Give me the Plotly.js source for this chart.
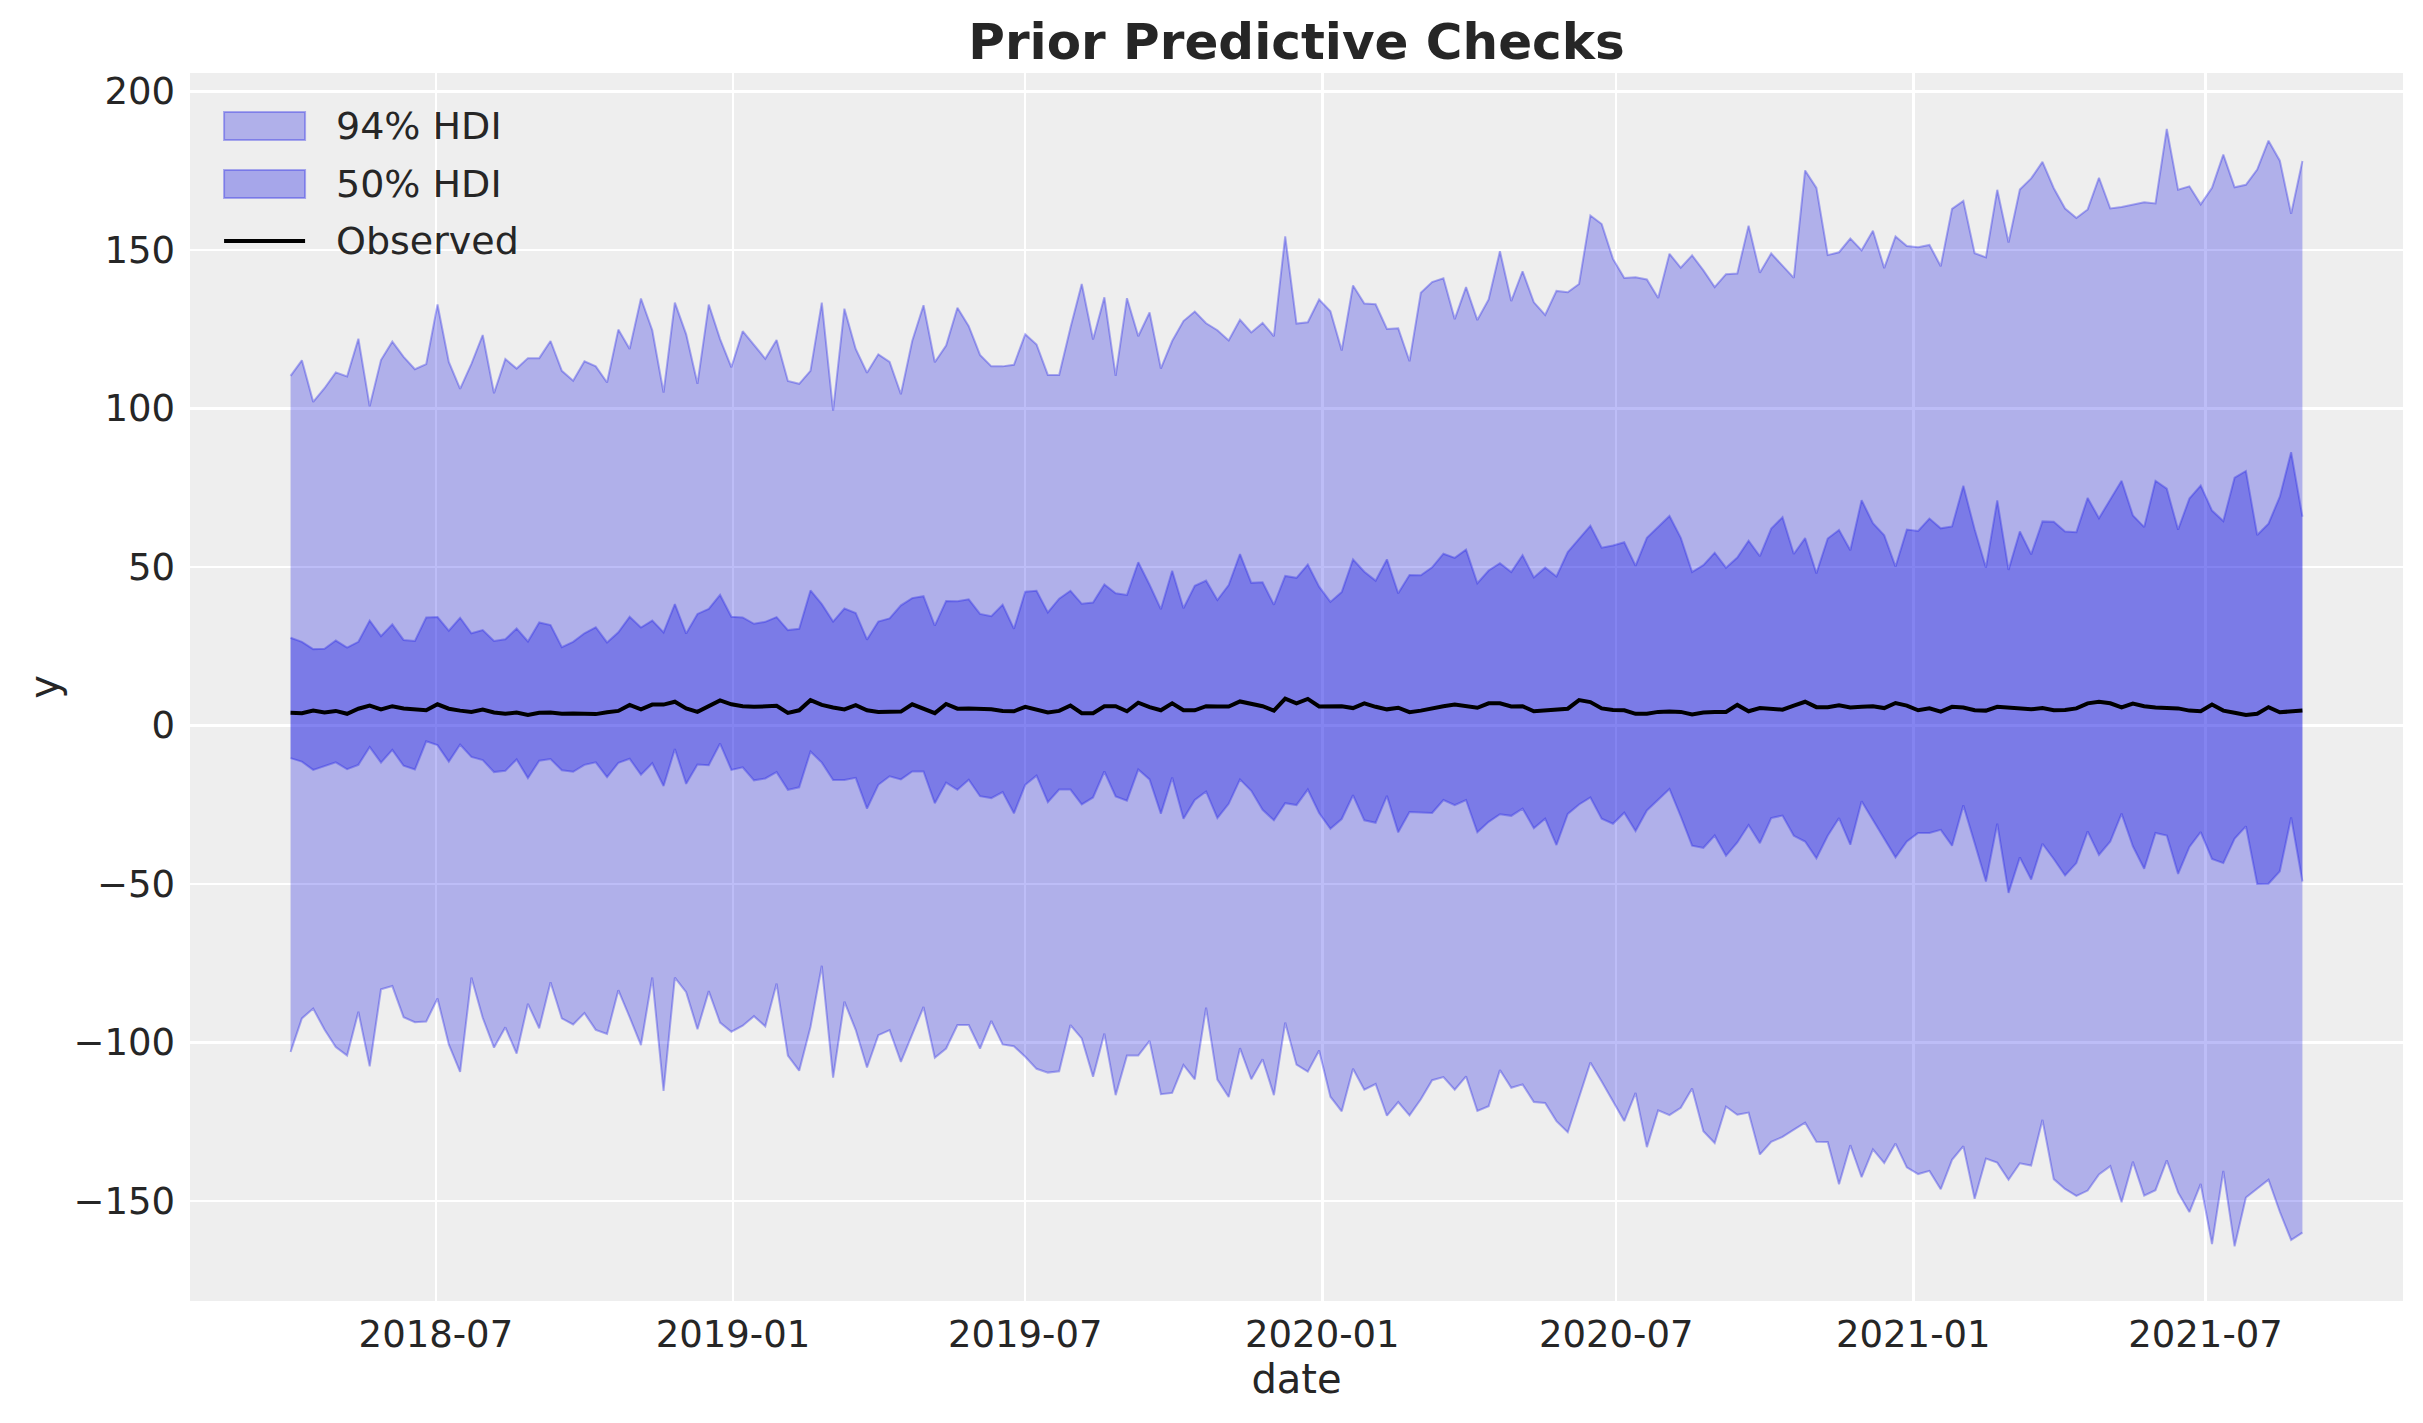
<!DOCTYPE html>
<html>
<head>
<meta charset="utf-8">
<script src="https://cdn.plot.ly/plotly-3.0.1.min.js"></script>
<style>
  body { margin: 0; background: #ffffff; }
  #ppcPlot { width: 2423px; height: 1423px; }
</style>
</head>
<body>
<div id="ppcPlot"></div>
<script>
// weekly series, first week 2018-04-02
const startDate = '2018-04-02';
const nWeeks = 179;

const hdi94Upper = [
  110.3, 115.2, 102.1, 106.4, 111.4, 110.1, 122.0, 100.7, 115.3, 121.1,
  116.3, 112.4, 114.0, 132.8, 114.7, 106.2, 114.1, 123.2, 104.8, 115.6,
  112.6, 115.9, 115.9, 121.3, 111.9, 108.8, 114.9, 113.3, 108.2, 124.9,
  118.8, 134.7, 124.7, 105.0, 133.4, 123.4, 107.8, 132.8, 121.9, 113.0,
  124.4, 120.2, 115.7, 121.6, 108.7, 107.8, 111.9, 133.4, 99.3, 131.5,
  118.8, 111.3, 117.1, 114.7, 104.5, 121.3, 132.6, 114.6, 119.9, 131.8,
  126.0, 116.9, 113.3, 113.3, 113.8, 123.4, 120.2, 110.6, 110.6, 125.5,
  139.3, 121.8, 135.1, 110.3, 134.8, 122.8, 130.3, 112.6, 121.3, 127.6,
  130.6, 126.9, 124.7, 121.5, 128.0, 124.0, 127.0, 122.8, 154.3, 126.8,
  127.2, 134.4, 130.7, 118.3, 138.8, 133.1, 132.9, 125.1, 125.3, 114.9,
  136.5, 139.9, 141.1, 128.2, 138.3, 127.9, 134.4, 149.6, 133.9, 143.3,
  133.5, 129.5, 137.1, 136.7, 139.3, 160.9, 158.2, 147.2, 141.2, 141.4,
  140.7, 134.9, 148.8, 144.4, 148.3, 143.6, 138.3, 142.4, 142.6, 157.7,
  142.8, 148.9, 145.0, 141.2, 175.1, 169.6, 148.4, 149.3, 153.6, 149.9,
  156.1, 144.3, 154.3, 151.3, 150.9, 151.6, 144.9, 163.0, 165.5, 149.0,
  147.7, 169.0, 152.4, 169.1, 172.6, 177.8, 169.5, 163.1, 160.1, 162.8,
  172.8, 163.1, 163.6, 164.3, 165.1, 164.7, 188.2, 169.0, 170.1, 164.4,
  169.6, 180.1, 169.8, 170.6, 175.4, 184.5, 178.2, 161.4, 178.1
];

const hdi94Lower = [
  -103.0, -92.4, -89.3, -95.9, -101.4, -104.1, -90.3, -107.5, -83.2, -82.2,
  -92.0, -93.6, -93.4, -86.1, -100.6, -109.3, -79.5, -92.2, -101.6, -95.2,
  -103.5, -87.8, -95.5, -81.0, -92.4, -94.3, -90.7, -96.0, -97.3, -83.5,
  -92.0, -100.8, -79.5, -115.3, -79.5, -84.1, -95.8, -83.8, -93.7, -96.6,
  -94.7, -91.7, -94.9, -81.4, -104.1, -108.9, -95.1, -75.8, -111.1, -87.1,
  -96.0, -107.9, -97.7, -96.1, -106.1, -97.6, -88.8, -104.8, -101.9, -94.5,
  -94.5, -101.9, -93.2, -100.6, -101.2, -104.5, -108.3, -109.5, -109.1, -94.5,
  -98.7, -110.8, -97.2, -116.6, -104.1, -104.1, -99.5, -116.3, -115.9, -107.1,
  -111.6, -89.0, -111.7, -117.2, -101.8, -111.6, -105.3, -116.6, -93.7, -107.0,
  -109.2, -102.5, -117.1, -121.7, -108.3, -114.9, -113.1, -123.1, -118.8, -123.0,
  -117.9, -111.9, -110.9, -114.9, -110.7, -121.6, -120.1, -108.7, -114.3, -113.2,
  -118.8, -119.1, -124.8, -128.3, -117.4, -106.3, -112.3, -118.7, -124.8, -115.9,
  -133.0, -121.4, -122.9, -120.6, -114.5, -128.0, -131.7, -120.2, -122.8, -122.1,
  -135.3, -131.3, -129.8, -127.5, -125.3, -131.3, -131.4, -144.7, -132.4, -142.5,
  -133.7, -138.0, -131.9, -139.4, -141.5, -140.5, -146.3, -137.0, -132.7, -149.3,
  -136.6, -137.9, -143.3, -138.1, -138.8, -124.4, -143.1, -146.2, -148.4, -146.7,
  -141.6, -139.0, -150.4, -137.6, -148.3, -146.6, -137.2, -147.3, -153.5, -144.6,
  -163.6, -140.5, -164.3, -148.9, -146.1, -143.3, -153.4, -162.3, -160.0
];

const hdi50Upper = [
  27.7, 26.4, 24.1, 24.2, 26.8, 24.6, 26.4, 33.1, 28.2, 31.9,
  27.0, 26.7, 34.1, 34.2, 29.9, 34.0, 29.1, 30.1, 26.7, 27.2,
  30.6, 26.5, 32.5, 31.7, 24.7, 26.4, 29.1, 31.0, 26.2, 29.4,
  34.3, 30.9, 33.1, 29.4, 38.3, 29.0, 35.2, 36.8, 41.2, 34.3,
  34.1, 32.1, 32.7, 34.2, 30.1, 30.5, 42.6, 38.3, 32.8, 36.9,
  35.5, 27.1, 32.8, 33.8, 37.9, 40.2, 40.8, 31.5, 39.3, 39.2,
  39.8, 35.2, 34.5, 38.1, 30.5, 42.2, 42.5, 35.7, 40.0, 42.5,
  38.4, 38.8, 44.5, 41.7, 41.2, 51.5, 44.4, 36.7, 48.8, 37.0,
  44.1, 45.7, 39.6, 44.3, 54.1, 45.0, 45.2, 38.1, 47.2, 46.6,
  50.8, 43.8, 39.0, 42.1, 52.4, 48.5, 45.7, 52.4, 41.7, 47.5,
  47.4, 49.9, 54.2, 52.9, 55.5, 44.9, 48.9, 51.2, 48.4, 53.7,
  46.7, 49.8, 47.0, 54.7, 58.9, 63.0, 56.1, 56.8, 57.8, 50.4,
  59.2, 62.5, 66.1, 59.2, 48.4, 50.6, 54.5, 49.8, 53.0, 58.3,
  53.4, 62.1, 65.7, 54.1, 59.1, 48.0, 59.0, 61.7, 55.3, 71.1,
  63.8, 60.0, 50.1, 61.8, 61.4, 65.3, 62.2, 62.8, 75.6, 61.9,
  49.8, 71.0, 49.1, 61.2, 54.0, 64.4, 64.3, 61.2, 61.0, 71.8,
  65.4, 71.3, 77.2, 66.3, 62.6, 77.2, 74.7, 61.8, 71.6, 75.7,
  67.8, 64.5, 78.2, 80.3, 60.1, 63.7, 72.2, 86.2, 65.9
];

const hdi50Lower = [
  -10.3, -11.4, -14.0, -12.8, -11.6, -13.8, -12.4, -6.8, -11.7, -7.7,
  -12.7, -13.9, -5.0, -6.2, -11.4, -6.0, -9.9, -10.9, -14.7, -14.3,
  -10.7, -16.6, -11.1, -10.6, -14.1, -14.6, -12.4, -11.6, -16.3, -11.8,
  -10.5, -15.5, -11.9, -19.1, -7.4, -18.4, -12.3, -12.5, -5.7, -14.0,
  -13.2, -17.3, -16.7, -14.7, -20.3, -19.5, -8.2, -11.7, -17.2, -17.2,
  -16.5, -26.2, -18.7, -16.0, -17.0, -14.5, -14.5, -24.5, -18.0, -20.3,
  -17.1, -22.3, -22.9, -21.0, -27.7, -18.7, -15.8, -24.2, -20.2, -20.2,
  -24.9, -22.7, -14.5, -22.4, -23.7, -13.9, -17.0, -27.8, -16.4, -29.4,
  -23.5, -20.8, -29.2, -24.7, -17.0, -20.6, -26.6, -29.9, -24.5, -25.1,
  -20.2, -27.6, -32.6, -29.5, -22.0, -29.9, -30.7, -22.2, -33.7, -27.3,
  -27.5, -27.6, -23.5, -25.1, -23.5, -33.7, -30.4, -28.0, -28.5, -26.2,
  -32.4, -29.4, -37.7, -27.9, -24.9, -22.7, -29.4, -31.0, -27.5, -33.3,
  -26.8, -23.4, -20.0, -28.7, -37.9, -38.6, -34.7, -41.1, -36.9, -31.4,
  -37.1, -29.2, -28.4, -34.8, -36.6, -41.9, -34.8, -29.2, -37.6, -23.9,
  -29.7, -35.5, -41.6, -36.6, -33.9, -33.9, -32.9, -37.9, -25.2, -37.1,
  -49.2, -31.0, -52.8, -41.6, -48.6, -37.3, -42.1, -47.3, -43.4, -33.4,
  -40.8, -36.6, -27.8, -38.1, -45.2, -33.9, -34.7, -46.8, -38.3, -33.6,
  -42.1, -43.4, -35.7, -31.8, -50.0, -49.9, -46.0, -29.0, -49.2
];

const observed = [
  4.0, 3.9, 4.7, 4.1, 4.6, 3.7, 5.3, 6.3, 5.1, 6.1,
  5.4, 5.1, 4.8, 6.7, 5.3, 4.7, 4.3, 5.0, 4.1, 3.7,
  4.1, 3.3, 4.0, 4.1, 3.7, 3.8, 3.6, 3.6, 4.2, 4.6,
  6.5, 5.1, 6.6, 6.6, 7.5, 5.4, 4.3, 6.0, 7.9, 6.7,
  6.1, 5.9, 6.0, 6.2, 4.0, 4.8, 8.0, 6.5, 5.7, 5.1,
  6.4, 4.8, 4.3, 4.4, 4.4, 6.7, 5.3, 3.9, 6.8, 5.3,
  5.4, 5.4, 5.1, 4.6, 4.5, 5.9, 5.0, 4.1, 4.6, 6.3,
  3.9, 3.9, 6.1, 6.1, 4.5, 7.2, 5.8, 4.8, 7.0, 4.8,
  4.8, 6.1, 6.0, 6.0, 7.6, 6.8, 6.1, 4.7, 8.5, 7.0,
  8.4, 6.0, 6.0, 6.1, 5.5, 7.0, 5.9, 5.1, 5.6, 4.2,
  4.7, 5.5, 6.1, 6.6, 6.1, 5.6, 7.0, 7.0, 6.0, 6.1,
  4.5, 4.8, 5.3, 5.3, 8.0, 7.4, 5.4, 4.9, 4.8, 3.7,
  3.7, 4.3, 4.4, 4.3, 3.5, 4.1, 4.3, 4.3, 6.5, 4.5,
  5.5, 5.3, 5.0, 6.3, 7.5, 5.8, 5.8, 6.4, 5.7, 5.9,
  6.1, 5.5, 7.1, 6.3, 4.8, 5.4, 4.4, 5.9, 5.7, 4.8,
  4.7, 5.9, 5.6, 5.4, 5.1, 5.5, 4.8, 4.9, 5.4, 7.0,
  7.5, 7.0, 5.7, 6.9, 6.1, 5.7, 5.4, 5.4, 4.7, 4.5,
  6.6, 4.7, 4.0, 3.3, 3.7, 5.8, 4.2, 4.6, 4.7
];

const legendLabels = ['94% HDI', '50% HDI', 'Observed'];

var dates = [];
var d0 = new Date(startDate + 'T00:00:00Z');
for (var i = 0; i < nWeeks; i++) {
  var d = new Date(d0.getTime() + i * 7 * 86400000);
  dates.push(d.toISOString().slice(0, 10));
}

const band94Color = 'rgba(0,0,225,0.26)';
const band50Color = 'rgba(0,0,225,0.30)';
const edgeColor = 'rgba(40,40,230,0.36)';
const textColor = '#262626';
const font = 'DejaVu Sans, Liberation Sans, sans-serif';

var lower94 = {
  x: dates, y: hdi94Lower, mode: 'lines',
  line: { color: edgeColor, width: 2 },
  showlegend: false, hoverinfo: 'skip'
};
var upper94 = {
  x: dates, y: hdi94Upper, mode: 'lines',
  fill: 'tonexty', fillcolor: band94Color,
  line: { color: edgeColor, width: 2 },
  name: legendLabels[0], showlegend: false
};
var lower50 = {
  x: dates, y: hdi50Lower, mode: 'lines',
  line: { color: edgeColor, width: 2 },
  showlegend: false, hoverinfo: 'skip'
};
var upper50 = {
  x: dates, y: hdi50Upper, mode: 'lines',
  fill: 'tonexty', fillcolor: band50Color,
  line: { color: edgeColor, width: 2 },
  name: legendLabels[1], showlegend: false
};
var obs = {
  x: dates, y: observed, mode: 'lines',
  line: { color: '#000000', width: 4 },
  name: legendLabels[2], showlegend: false
};

var data = [lower94, upper94, lower50, upper50, obs];

// matplotlib-style legend (wide swatches), placed in plot-area fractions
var legX0 = 0.0154, legX1 = 0.0520, legTextX = 0.0651;
var legRows = [0.9568, 0.9096, 0.8632];
var legHalf = 0.0114;
var shapes = [
  { type: 'rect', xref: 'paper', yref: 'paper',
    x0: legX0, x1: legX1, y0: legRows[0] - legHalf, y1: legRows[0] + legHalf,
    fillcolor: band94Color, line: { color: edgeColor, width: 2 } },
  { type: 'rect', xref: 'paper', yref: 'paper',
    x0: legX0, x1: legX1, y0: legRows[1] - legHalf, y1: legRows[1] + legHalf,
    fillcolor: band50Color, line: { color: edgeColor, width: 2 } },
  { type: 'line', xref: 'paper', yref: 'paper',
    x0: legX0, x1: legX1, y0: legRows[2], y1: legRows[2],
    line: { color: '#000000', width: 4 } }
];
var annotations = legendLabels.map((label, k) => ({
  text: label, xref: 'paper', yref: 'paper',
  x: legTextX, y: legRows[k], xanchor: 'left', yanchor: 'middle',
  showarrow: false, font: { size: 38, color: textColor }
}));

var layout = {
  width: 2423,
  height: 1423,
  margin: { l: 190, r: 20, t: 73, b: 122 },
  paper_bgcolor: '#ffffff',
  plot_bgcolor: '#eeeeee',
  font: { family: font, color: textColor, size: 38 },
  title: {
    text: '<b>Prior Predictive Checks</b>',
    font: { family: font, size: 50, color: textColor },
    x: 0.5, xref: 'paper', xanchor: 'center',
    y: 0.971, yref: 'container', yanchor: 'middle'
  },
  xaxis: {
    type: 'date',
    range: ['2018-01-29 17:00', '2021-10-31 07:00'],
    tick0: '2018-01-01',
    dtick: 'M6',
    tickformat: '%Y-%m',
    showgrid: true, gridcolor: '#ffffff', gridwidth: 2.5,
    zeroline: false, showline: false,
    ticks: '', ticklabelstandoff: 8,
    tickfont: { size: 37, color: textColor },
    title: { text: 'date', font: { size: 40, color: textColor }, standoff: 9 }
  },
  yaxis: {
    range: [-181.55, 205.85],
    tick0: 0, dtick: 50,
    showgrid: true, gridcolor: '#ffffff', gridwidth: 2.5,
    zeroline: false, showline: false,
    ticks: '', ticklabelstandoff: 14,
    tickfont: { size: 37, color: textColor },
    title: { text: 'y', font: { size: 40, color: textColor }, standoff: 2 }
  },
  shapes: shapes,
  annotations: annotations,
  showlegend: false
};

window.addEventListener('load', (event) => {
  Plotly.newPlot('ppcPlot', data, layout, { displayModeBar: false, staticPlot: true });
});
</script>
</body>
</html>
